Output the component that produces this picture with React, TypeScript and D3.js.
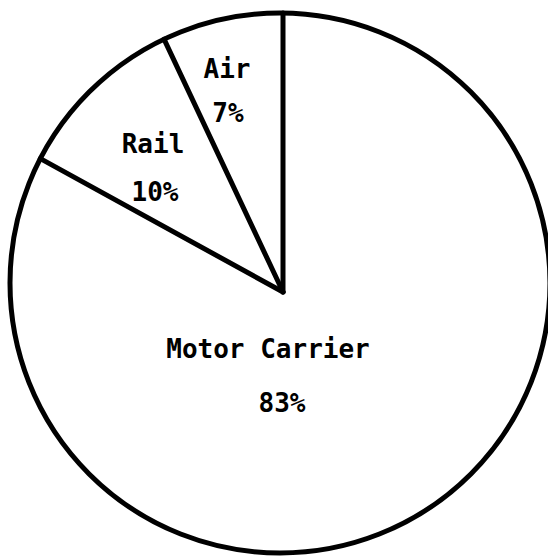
import React, { useEffect, useRef } from "react"
import * as d3 from "d3"

const categories = ["Motor Carrier", "Rail", "Air"]
const shares = [83, 10, 7]
const labelText = ["83%", "10%", "7%"]

const W = 548
const H = 556

export default function App() {
  const ref = useRef<SVGSVGElement>(null)

  useEffect(() => {
    const svg = d3.select(ref.current)
    svg.selectAll("*").remove()

    // circle of the scan sits a little off the apex of the slices
    const cx = 280
    const cy = 283
    const r = 270
    const apex = { x: 283, y: 292 }

    const pie = d3.pie<number>().sort(null).value(d => d)
    const arcs = pie(shares)

    svg.append("rect").attr("width", W).attr("height", H).attr("fill", "#fff")

    svg.append("circle")
      .attr("cx", cx)
      .attr("cy", cy)
      .attr("r", r)
      .attr("fill", "none")
      .attr("stroke", "#000")
      .attr("stroke-width", 5)

    // radial boundaries: from apex to where the ray meets the circle
    const edge = (a: number) => {
      const dx = Math.sin(a)
      const dy = -Math.cos(a)
      const px = apex.x - cx
      const py = apex.y - cy
      const b = px * dx + py * dy
      const c = px * px + py * py - r * r
      const t = -b + Math.sqrt(b * b - c)
      return [apex.x + t * dx, apex.y + t * dy]
    }

    svg.selectAll("line.bound")
      .data(arcs)
      .enter()
      .append("line")
      .attr("class", "bound")
      .attr("x1", apex.x)
      .attr("y1", apex.y)
      .attr("x2", d => edge(d.startAngle)[0])
      .attr("y2", d => edge(d.startAngle)[1])
      .attr("stroke", "#000")
      .attr("stroke-width", 5)
      .attr("stroke-linecap", "round")

    const labelPos = [
      { x: 268, y: 358, px: 282, py: 412 },
      { x: 153, y: 153, px: 155, py: 201 },
      { x: 227, y: 78, px: 228, py: 122 },
    ]

    const g = svg.append("g")
      .attr("font-family", "'DejaVu Sans Mono', monospace")
      .attr("font-size", 26)
      .attr("font-weight", "bold")
      .attr("fill", "#000")
      .attr("text-anchor", "middle")

    categories.forEach((name, i) => {
      g.append("text").attr("x", labelPos[i].x).attr("y", labelPos[i].y).text(name)
      g.append("text").attr("x", labelPos[i].px).attr("y", labelPos[i].py).text(labelText[i])
    })
  }, [])

  return (
    <svg
      ref={ref}
      width={W}
      height={H}
      style={{ position: "absolute", left: 0, top: 0 }}
    />
  )
}
